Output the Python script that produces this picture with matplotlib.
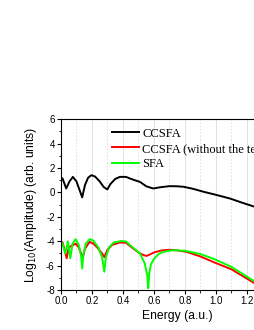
import matplotlib
matplotlib.use('Agg')
import matplotlib.pyplot as plt
from matplotlib.ticker import MultipleLocator

# energy (a.u.) and log10 amplitude
x_ccsfa = [0.01, 0.034, 0.055, 0.077, 0.1, 0.12, 0.137, 0.155, 0.175, 0.196,
           0.22, 0.25, 0.275, 0.299, 0.32, 0.35, 0.38, 0.42, 0.445, 0.48,
           0.51, 0.55, 0.595, 0.64, 0.70, 0.75, 0.79, 0.85, 0.92, 1.0,
           1.09, 1.17, 1.25, 1.35, 1.45]
y_ccsfa = [1.14, 0.32, 0.9, 1.27, 0.9, 0.2, -0.41, 0.6, 1.2, 1.41,
           1.3, 0.9, 0.45, 0.24, 0.7, 1.1, 1.27, 1.27, 1.14, 0.98,
           0.86, 0.5, 0.32, 0.42, 0.51, 0.5, 0.46, 0.3, 0.05, -0.2,
           -0.5, -0.85, -1.18, -1.65, -2.1]

x_noterm = [0.01, 0.022, 0.037, 0.05, 0.065, 0.095, 0.115, 0.13, 0.14, 0.155,
            0.185, 0.21, 0.24, 0.265, 0.28, 0.3, 0.33, 0.38, 0.42, 0.466,
            0.51, 0.535, 0.553, 0.58, 0.6, 0.65, 0.7, 0.75, 0.81, 0.9,
            0.99, 1.1, 1.25, 1.3]
y_noterm = [-4.1, -4.6, -5.4, -4.5, -4.4, -4.2, -4.5, -5.0, -5.4, -4.6,
            -4.05, -4.2, -4.6, -5.0, -5.3, -4.7, -4.3, -4.1, -4.13, -4.6,
            -5.0, -5.15, -5.2, -5.05, -4.92, -4.75, -4.7, -4.75, -4.87, -5.25,
            -5.74, -6.3, -7.45, -7.9]

x_sfa = [0.01, 0.028, 0.045, 0.06, 0.075, 0.095, 0.115, 0.13, 0.137, 0.145,
         0.16, 0.185, 0.21, 0.24, 0.265, 0.28, 0.29, 0.31, 0.34, 0.39,
         0.42, 0.466, 0.51, 0.54, 0.557, 0.563, 0.57, 0.58, 0.6, 0.63,
         0.66, 0.72, 0.8, 0.9, 0.99, 1.1, 1.25, 1.3]
y_sfa = [-4.18, -5.0, -4.0, -5.4, -4.2, -3.83, -4.3, -5.2, -6.23, -5.1,
         -4.2, -3.83, -3.95, -4.5, -5.3, -6.5, -5.3, -4.5, -4.1, -3.98,
         -4.02, -4.54, -5.0, -5.8, -6.8, -7.85, -6.6, -5.9, -5.45, -5.05,
         -4.87, -4.74, -4.78, -5.05, -5.47, -6.1, -7.3, -7.75]

labels = ['CCSFA', 'CCSFA (without the term)', 'SFA']

fig = plt.figure(figsize=(2.55, 3.3), dpi=100)
ax = fig.add_axes([0.239, 0.121, 0.912, 0.518])

ax.plot(x_ccsfa, y_ccsfa, color='black', lw=1.4, label=labels[0])
ax.plot(x_noterm, y_noterm, color='#ff0000', lw=1.4, label=labels[1])
ax.plot(x_sfa, y_sfa, color='#00ff00', lw=1.4, label=labels[2])

ax.set_xlim(0, 1.5)
ax.set_ylim(-8, 6)
ax.xaxis.set_major_locator(MultipleLocator(0.2))
ax.xaxis.set_minor_locator(MultipleLocator(0.1))
ax.yaxis.set_major_locator(MultipleLocator(2))
ax.yaxis.set_minor_locator(MultipleLocator(1))
ax.xaxis.set_major_formatter(plt.FormatStrFormatter('%.1f'))
ax.yaxis.set_major_formatter(plt.FormatStrFormatter('%d'))

ax.grid(True, axis='x', which='major', color='#dddddd', lw=0.6)
ax.grid(True, axis='x', which='minor', color='#dddddd', lw=0.6, ls=(0, (2, 2)))
ax.set_axisbelow(True)

ax.tick_params(which='major', direction='out', length=3, width=0.8,
               labelsize=7, pad=1.5)
ax.tick_params(which='minor', direction='out', length=1.8, width=0.6)
for lab in ax.get_xticklabels() + ax.get_yticklabels():
    lab.set_fontfamily('Liberation Sans')
for sp in ax.spines.values():
    sp.set_linewidth(0.8)

ax.set_xlabel('Energy (a.u.)', fontsize=8.7, family='Liberation Sans', labelpad=3)
ax.set_ylabel('Log$_{10}$(Amplitude) (arb. units)', fontsize=8.7,
              family='Liberation Sans', labelpad=5)

ax.legend(loc='upper left', bbox_to_anchor=(0.219, 0.95), frameon=False,
          prop={'family': 'Liberation Serif', 'size': 9},
          handlelength=2.15, handletextpad=0.28, labelspacing=0.25,
          borderpad=0, borderaxespad=0)

fig.savefig('out.png', dpi=100)
